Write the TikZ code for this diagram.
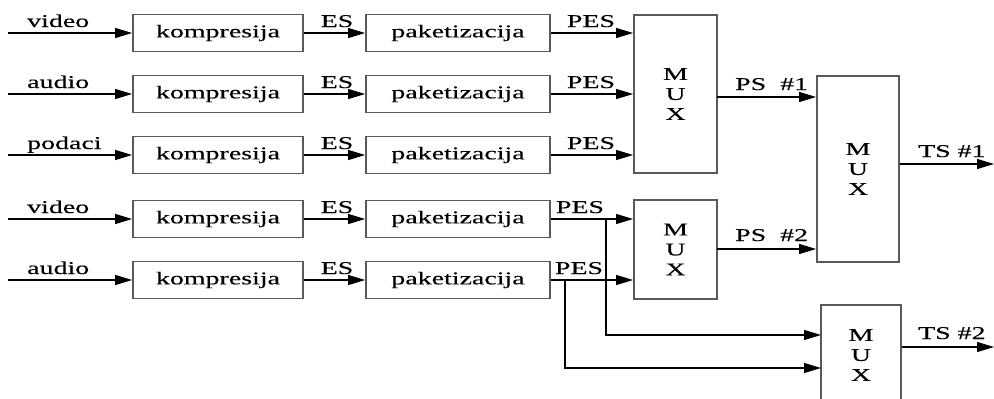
\documentclass[tikz,border=0pt]{standalone}
\usepackage{fontspec}
\setmainfont{Liberation Serif}[FakeStretch=1.55,FakeBold=0.3]
\usetikzlibrary{arrows.meta,calc}
\begin{document}
\begin{tikzpicture}[x=1pt,y=-1pt,
  box/.style={draw=black!65, line width=1.8pt, rectangle, inner sep=0pt, font=\fontsize{18}{20}\selectfont},
  kbox/.style={box, minimum width=170pt, minimum height=37pt},
  pbox/.style={box, minimum width=184pt, minimum height=37pt},
  mux/.style={box, align=center, minimum width=83pt},
  lbl/.style={font=\fontsize{18}{20}\selectfont, inner sep=0pt},
  arr/.style={-{Triangle[length=17pt,width=10pt]}, line width=1.2pt},
  ln/.style={line width=1.2pt}]
\useasboundingbox (0,0) rectangle (994,399);
\clip (0,0) rectangle (994,399);

% compression and packetization boxes
\foreach \r/\y in {1/33,2/94,3/155,4/219,5/280}{
  \node[kbox] (k\r) at (218,\y) {kompresija};
  \node[pbox] (p\r) at (458,\y) {paketizacija};
  \coordinate (i\r) at (8,\y);
  \draw[arr] (i\r) -- (k\r.west);
  \draw[arr] (k\r.east) -- (p\r.west);
  \node[lbl, anchor=base] (es\r) at (337,\y-6) {ES};
}

% input labels
\node[lbl, anchor=base west] (l1) at (27,27) {video};
\node[lbl, anchor=base west] (l2) at (27,88) {audio};
\node[lbl, anchor=base west] (l3) at (27,149) {podaci};
\node[lbl, anchor=base west] (l4) at (27,213) {video};
\node[lbl, anchor=base west] (l5) at (27,274) {audio};

% multiplexers
\node[mux, minimum height=158pt] (m1) at (675.5,94) {M\\U\\X};
\node[mux, minimum height=99pt] (m2) at (675.5,249.5) {M\\U\\X};
\node[mux, minimum width=82pt, minimum height=186pt] (m3) at (858,169) {M\\U\\X};
\node[mux, minimum width=80pt, minimum height=100pt] (m4) at (861,355) {M\\U\\X};

% PES to MUX 1
\foreach \r in {1,2,3}{
  \draw[arr] (p\r.east) -- (p\r.east -| m1.west);
  \node[lbl, anchor=base] (pes\r) at (591,{\r==1?27:(\r==2?88:149)}) {PES};
}
% PES to MUX 2
\draw[arr] (p4.east) -- (p4.east -| m2.west);
\draw[arr] (p5.east) -- (p5.east -| m2.west);
\node[lbl, anchor=base] (pes4) at (580,213) {PES};
\node[lbl, anchor=base] (pes5) at (579,274) {PES};

% branches to MUX 4
\coordinate (b4) at (606,219);
\coordinate (b5) at (565,280);
\coordinate (t4) at (821,335);
\coordinate (t5) at (821,368);
\draw[arr] (b4) |- (t4);
\draw[arr] (b5) |- (t5);

% PS to MUX 3
\coordinate (s1) at (717,97);
\coordinate (s2) at (717,249);
\draw[arr] (s1) -- (s1 -| m3.west);
\draw[arr] (s2) -- (s2 -| m3.west);
\node[lbl, anchor=base west] (ps1) at (735,90) {PS\ \ \#1};
\node[lbl, anchor=base west] (ps2) at (735,241) {PS\ \ \#2};

% outputs
\coordinate (o1) at (994,164);
\coordinate (o2) at (994,347);
\draw[arr] (m3.east |- o1) -- (o1);
\draw[arr] (m4.east |- o2) -- (o2);
\node[lbl, anchor=base west] (ts1) at (918,157) {TS \#1};
\node[lbl, anchor=base west] (ts2) at (918,339) {TS \#2};
\end{tikzpicture}
\end{document}
